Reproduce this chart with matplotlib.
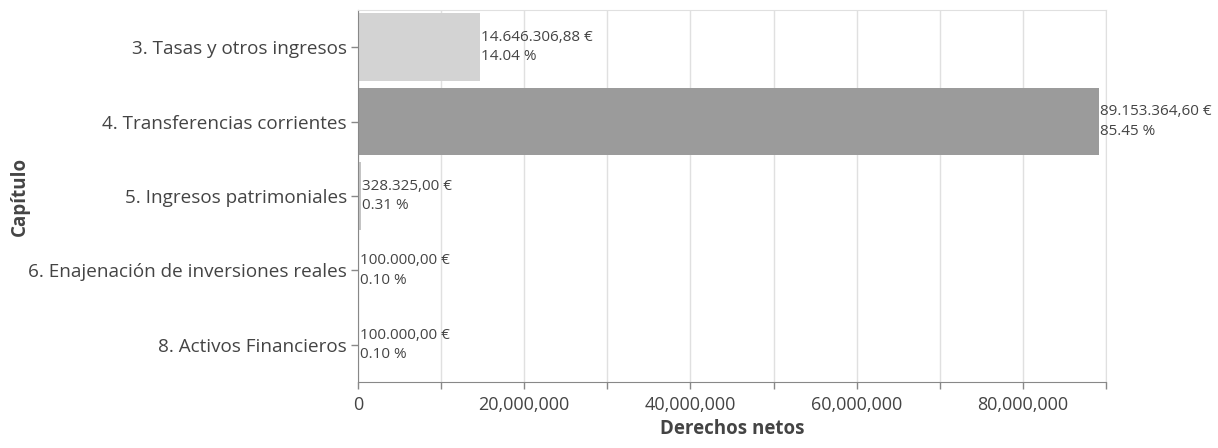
import matplotlib.pyplot as plt
import numpy as np

plt.rcParams["font.family"] = ["Open Sans", "DejaVu Sans"]

capitulos = [
    "3. Tasas y otros ingresos",
    "4. Transferencias corrientes",
    "5. Ingresos patrimoniales",
    "6. Enajenación de inversiones reales",
    "8. Activos Financieros",
]
derechos = [14646306.88, 89153364.60, 328325.00, 100000.00, 100000.00]
etiquetas = ["14.646.306,88 €", "89.153.364,60 €", "328.325,00 €", "100.000,00 €", "100.000,00 €"]
porcentajes = ["14.04 %", "85.45 %", "0.31 %", "0.10 %", "0.10 %"]
colores = ["#d3d3d3", "#9b9b9b", "#c4c4c4", "#8a8a8a", "#b0b0b0"]

fig = plt.figure(figsize=(12.18, 4.48), dpi=100)
ax = fig.add_axes([358 / 1218, 1 - 382 / 448, (1106 - 358) / 1218, 372 / 448])

y = np.arange(len(capitulos))
ax.barh(y, derechos, height=0.91, color=colores, zorder=2)
for yi, v, e, p in zip(y, derechos, etiquetas, porcentajes):
    ax.text(v + 120000, yi, e + "\n" + p, va="center", ha="left",
            fontsize=11, color="#444444", linespacing=1.4, zorder=3)

ax.set_ylim(len(capitulos) - 0.5, -0.5)
ax.set_xlim(0, 90000000)
ax.set_yticks(y)
ax.set_yticklabels(capitulos, fontsize=13.6, color="#444444")
xt = np.arange(0, 90000001, 10000000)
ax.set_xticks(xt)
ax.set_xticklabels([f"{int(t):,}" if i % 2 == 0 else "" for i, t in enumerate(xt)],
                   fontsize=13, color="#444444")
ax.grid(axis="x", color="#e0e0e0", linewidth=1, zorder=0)
ax.tick_params(axis="both", color="#888888", length=5, width=1)
ax.tick_params(axis="x", pad=5)
ax.tick_params(axis="y", pad=3)
for s in ["top", "right"]:
    ax.spines[s].set_color("#e0e0e0")
for s in ["left", "bottom"]:
    ax.spines[s].set_color("#888888")
ax.set_xlabel("Derechos netos", fontsize=13.5, fontweight="bold", color="#444444", labelpad=4)
ax.set_ylabel("Capítulo", fontsize=13.5, fontweight="bold", color="#444444")
ax.yaxis.set_label_coords((30 - 358) / 748, 0.5)

plt.savefig("out.png", dpi=100)
plt.close()
